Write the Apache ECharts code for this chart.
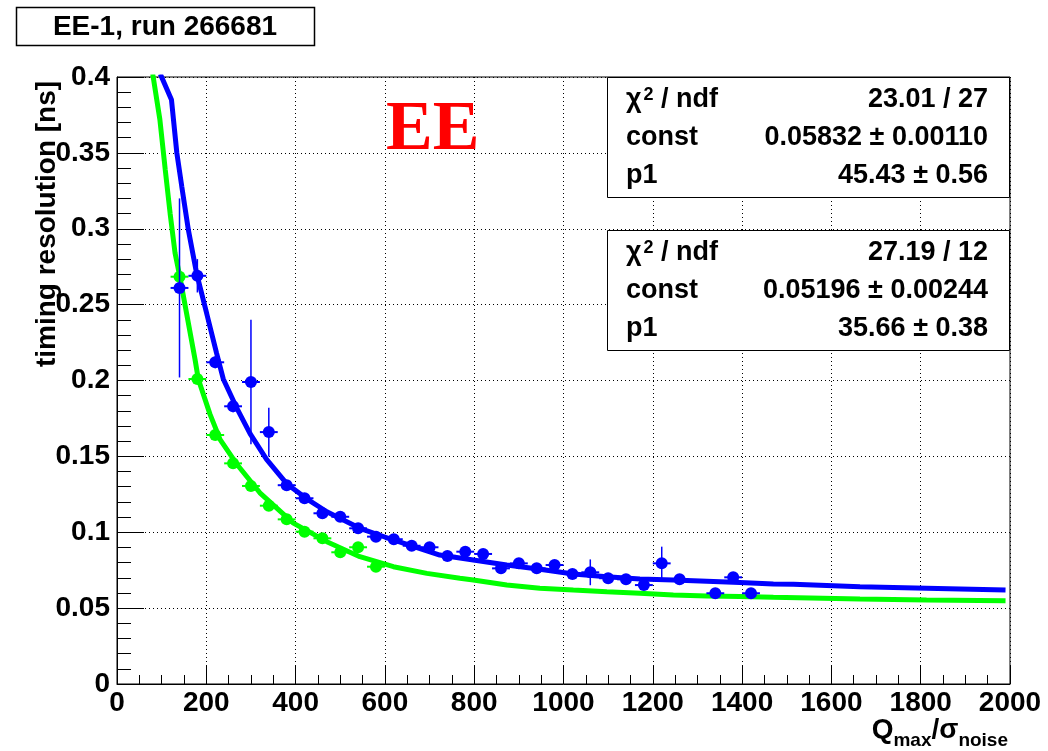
<!DOCTYPE html>
<html>
<head>
<meta charset="utf-8">
<script src="https://cdn.jsdelivr.net/npm/echarts@6/dist/echarts.min.js"></script>
<style>
  body { margin: 0; background: #fff; }
  #main { width: 1048px; height: 751px; }
</style>
</head>
<body>
<div id="main"></div>
<script>
// run data, blue graph (bins of 40, x error = half bin)
const blueX = [140, 180, 220, 260, 300, 340, 380, 420, 460, 500, 540, 580, 620, 660, 700, 740,
  780, 820, 860, 900, 940, 980, 1020, 1060, 1100, 1140, 1180, 1220, 1260, 1340, 1380, 1420];
const blueY = [0.261, 0.269, 0.212, 0.183, 0.199, 0.166, 0.131, 0.1224, 0.1125, 0.1102, 0.1026, 0.0971,
  0.0954, 0.0911, 0.0901, 0.0844, 0.0872, 0.0857, 0.0762, 0.0795, 0.0762, 0.0784, 0.0725, 0.0736,
  0.0697, 0.0690, 0.0652, 0.0795, 0.0690, 0.0598, 0.0703, 0.0598];
const blueErr = [0.059, 0.011, 0.004, 0.004, 0.041, 0.016, 0.003, 0.003, 0.003, 0.003, 0.003, 0.003,
  0.003, 0.003, 0.003, 0.003, 0.003, 0.003, 0.003, 0.003, 0.003, 0.003, 0.003, 0.0085,
  0.003, 0.003, 0.003, 0.011, 0.003, 0.003, 0.003, 0.003];

// green graph
const greenX = [140, 180, 220, 260, 300, 340, 380, 420, 460, 500, 540, 580];
const greenY = [0.2684, 0.2010, 0.1641, 0.1454, 0.1305, 0.1175, 0.1085, 0.1004, 0.0960, 0.0868, 0.0901, 0.0773];
const greenErr = [0.003, 0.003, 0.003, 0.003, 0.003, 0.003, 0.003, 0.003, 0.003, 0.003, 0.003, 0.003];

const binHalf = 20;

// fit curves
const blueFitX = [97, 122, 134, 145, 160, 178, 201, 223, 238, 268, 298, 335, 380, 425, 470, 544,
  619, 723, 798, 873, 947, 1022, 1097, 1171, 1246, 1321, 1395, 1470, 1515, 1664, 1813, 1990];
const blueFitY = [0.402, 0.385, 0.350, 0.328, 0.299, 0.271, 0.244, 0.218, 0.201, 0.182, 0.165, 0.148,
  0.132, 0.122, 0.1135, 0.1026, 0.0949, 0.0850, 0.0817, 0.0784, 0.0756, 0.0725, 0.0707, 0.0692,
  0.0685, 0.0677, 0.0669, 0.0659, 0.0657, 0.0641, 0.0631, 0.0619];
const greenFitX = [80, 96, 108, 119, 130, 141, 156, 175, 182, 208, 231, 268, 320, 395, 470, 544,
  619, 694, 768, 798, 873, 947, 1022, 1097, 1171, 1246, 1321, 1395, 1470, 1664, 1813, 1990];
const greenFitY = [0.402, 0.372, 0.339, 0.310, 0.284, 0.268, 0.244, 0.2135, 0.201, 0.178, 0.161, 0.145,
  0.126, 0.106, 0.0938, 0.0839, 0.0773, 0.0729, 0.0697, 0.0685, 0.0652, 0.0631, 0.0619, 0.0608,
  0.0598, 0.0586, 0.0580, 0.0576, 0.0571, 0.0560, 0.0554, 0.0549];

const titleText = 'EE-1, run 266681';
const stats1 = [['23.01 / 27'], ['0.05832 \u00b1 0.00110'], ['45.43 \u00b1 0.56']];
const stats2 = [['27.19 / 12'], ['0.05196 \u00b1 0.00244'], ['35.66 \u00b1 0.38']];

const FONT = '"Liberation Sans", Arial, sans-serif';

function pts(xs, ys, es) {
  return xs.map((x, i) => [x, ys[i], binHalf, es[i]]);
}
function pairs(xs, ys) {
  return xs.map((x, i) => [x, ys[i]]);
}

function errorBars(color) {
  return function (params, api) {
    const x = api.value(0), y = api.value(1), ex = api.value(2), ey = api.value(3);
    const c = api.coord([x, y]);
    const l = api.coord([x - ex, y]);
    const r = api.coord([x + ex, y]);
    const t = api.coord([x, y + ey]);
    const b = api.coord([x, y - ey]);
    return {
      type: 'group',
      children: [
        {type: 'line', shape: {x1: l[0], y1: l[1], x2: r[0], y2: r[1]}, style: {stroke: color, lineWidth: 2}},
        {type: 'line', shape: {x1: t[0], y1: t[1], x2: b[0], y2: b[1]}, style: {stroke: color, lineWidth: 1.5}},
        {type: 'circle', shape: {cx: c[0], cy: c[1], r: 6}, style: {fill: color}}
      ]
    };
  };
}

function statBox(top, vals) {
  const rowY = [top + 23, top + 61, top + 99];
  const names = ['{c|\u03c7}{s|2}{c| / ndf}', 'const', 'p1'];
  const els = [{
    type: 'rect', shape: {x: 607.5, y: top + 0.5, width: 402, height: 120},
    style: {fill: '#fff', stroke: '#000', lineWidth: 1}, z: 100
  }];
  rowY.forEach((y, i) => {
    els.push({
      type: 'text', x: 626, y: y, z: 101,
      style: {
        text: names[i], font: 'bold 27px ' + FONT, fill: '#000', align: 'left', verticalAlign: 'middle',
        rich: {
          c: {font: 'bold 27px ' + FONT, fill: '#000', verticalAlign: 'top'},
          s: {font: 'bold 18px ' + FONT, fill: '#000', verticalAlign: 'top', padding: [0, 0, 0, 2]}
        }
      }
    });
    els.push({
      type: 'text', x: 988, y: y, z: 101,
      style: {text: vals[i][0], font: 'bold 27px ' + FONT, fill: '#000', align: 'right', verticalAlign: 'middle'}
    });
  });
  return els;
}

const chart = echarts.init(document.getElementById('main'));
chart.setOption({
  animation: false,
  backgroundColor: '#fff',
  grid: {
    left: 117, top: 77, right: 38, bottom: 67,
    show: true, borderColor: '#000', borderWidth: 1
  },
  xAxis: {
    type: 'value', min: 0, max: 2000, interval: 200,
    axisLine: {show: true, lineStyle: {color: '#000', width: 1}},
    axisTick: {inside: true, length: 18, lineStyle: {color: '#000', width: 1}},
    minorTick: {show: true, splitNumber: 4, length: 9, lineStyle: {color: '#000', width: 1}},
    splitLine: {show: true, lineStyle: {color: '#000', width: 1, type: [1, 3]}},
    axisLabel: {color: '#000', fontFamily: FONT, fontWeight: 'bold', fontSize: 28, margin: 5,
      formatter: v => String(v)}
  },
  yAxis: {
    type: 'value', min: 0, max: 0.4, interval: 0.05,
    axisLine: {show: true, lineStyle: {color: '#000', width: 1}},
    axisTick: {inside: true, length: 27, lineStyle: {color: '#000', width: 1}},
    minorTick: {show: true, splitNumber: 5, length: 14, lineStyle: {color: '#000', width: 1}},
    splitLine: {show: true, lineStyle: {color: '#000', width: 1, type: [1, 3]}},
    axisLabel: {color: '#000', fontFamily: FONT, fontWeight: 'bold', fontSize: 28, margin: 7,
      formatter: v => String(+v.toFixed(2))}
  },
  series: [
    {
      type: 'line', data: pairs(blueFitX, blueFitY), showSymbol: false, clip: true, z: 2,
      lineStyle: {color: '#0000ff', width: 5}
    },
    {
      type: 'line', data: pairs(greenFitX, greenFitY), showSymbol: false, clip: true, z: 2,
      lineStyle: {color: '#00ff00', width: 5}
    },
    {
      type: 'custom', data: pts(greenX, greenY, greenErr), renderItem: errorBars('#00ff00'), z: 3,
      encode: {x: 0, y: 1}
    },
    {
      type: 'custom', data: pts(blueX, blueY, blueErr), renderItem: errorBars('#0000ff'), z: 4,
      encode: {x: 0, y: 1}
    }
  ],
  graphic: [
    {
      type: 'rect', shape: {x: 16.5, y: 7.5, width: 298, height: 38},
      style: {fill: '#fff', stroke: '#000', lineWidth: 1.5}, z: 100
    },
    {
      type: 'text', x: 165, y: 27, z: 101,
      style: {text: titleText, font: 'bold 28px ' + FONT, fill: '#000', align: 'center', verticalAlign: 'middle'}
    },
    {
      type: 'text', x: 386, y: 131, z: 101,
      style: {text: 'EE', font: 'bold 70px "Liberation Serif", "Times New Roman", serif', fill: '#ff0000',
        align: 'left', verticalAlign: 'middle'}
    },
    {
      type: 'text', x: 47, y: 224, rotation: Math.PI / 2, z: 101,
      style: {text: 'timing resolution [ns]', font: 'bold 28px ' + FONT, fill: '#000',
        align: 'center', verticalAlign: 'middle'}
    },
    {
      type: 'text', x: 1008, y: 716, z: 101,
      style: {
        text: '{b|Q}{s|max}{b|/\u03c3}{s|noise}', align: 'right', verticalAlign: 'top',
        font: 'bold 28px ' + FONT, fill: '#000',
        rich: {
          b: {font: 'bold 28px ' + FONT, fill: '#000', verticalAlign: 'top'},
          s: {font: 'bold 19px ' + FONT, fill: '#000', verticalAlign: 'top', padding: [15, 0, 0, 0]}
        }
      }
    }
  ].concat(statBox(77, stats1), statBox(230, stats2))
});
</script>
</body>
</html>
